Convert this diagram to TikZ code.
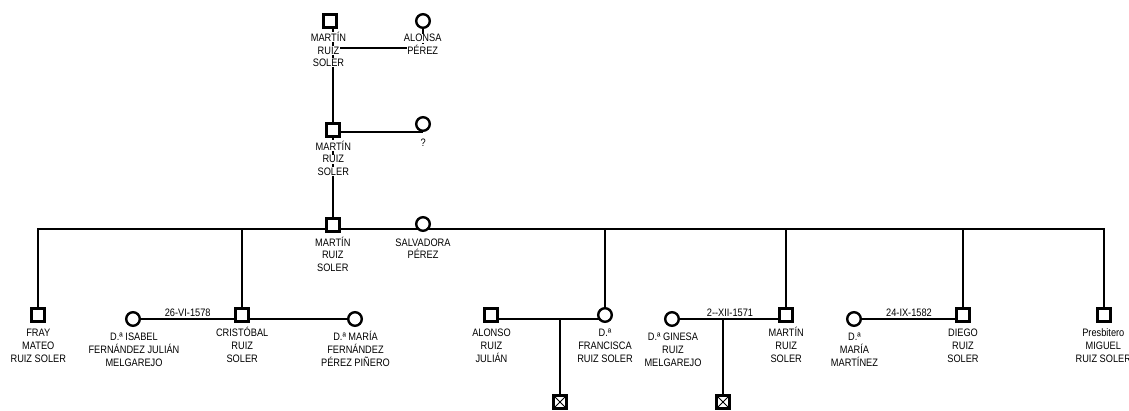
\documentclass[tikz,border=0pt]{standalone}
\usepackage{fontspec}
\setmainfont{Liberation Sans}[FakeStretch=0.855]
\usetikzlibrary{backgrounds}
\newcommand\gtxt[4]{\node[txt] (#1) at (#2,#3) {#4};}
\tikzset{
  txt/.style={anchor=base,inner sep=0.5pt,fill=white,font=\fontsize{10.8}{12}\selectfont},
  datetxt/.style={anchor=base,inner sep=0.5pt,font=\fontsize{10.8}{12}\selectfont},
  male/.style={draw,fill=white,rectangle,minimum size=13pt,inner sep=0pt,line width=2.4pt},
  female/.style={draw,fill=white,circle,minimum size=13.6pt,inner sep=0pt,line width=2.4pt},
  dead/.style={male,path picture={\draw[line width=0.9pt]
      ([shift={(1.2pt,-1.2pt)}]path picture bounding box.north west) -- ([shift={(-1.2pt,1.2pt)}]path picture bounding box.south east)
      ([shift={(-1.2pt,-1.2pt)}]path picture bounding box.north east) -- ([shift={(1.2pt,1.2pt)}]path picture bounding box.south west);}},
  link/.style={line width=2.7pt}
}
\begin{document}
\begin{tikzpicture}[x=1pt,y=-1pt]
\useasboundingbox (0,0) rectangle (1129,411);
% ---- individuals
\node[male]   (s1) at (330,21) {};
\node[female] (c1) at (423,21) {};
\node[male]   (s2) at (333,130) {};
\node[female] (c2) at (423,124) {};
\node[male]   (s3) at (333,225) {};
\node[female] (c3) at (423,224) {};
\node[male]   (fray) at (38,315) {};
\node[female] (isabel) at (133,319) {};
\node[male]   (cris) at (242,315) {};
\node[female] (mariaf) at (355,319) {};
\node[male]   (alonso) at (491,315) {};
\node[female] (fran) at (605,315) {};
\node[female] (ginesa) at (672,319) {};
\node[male]   (martin) at (786,315) {};
\node[female] (mmart) at (854,319) {};
\node[male]   (diego) at (963,315) {};
\node[male]   (miguel) at (1104,315) {};
\node[dead]   (k1) at (560,402) {};
\node[dead]   (k2) at (723,402) {};
\coordinate (m1) at (0,48);
\coordinate (sib) at (0,229);
\coordinate (m4) at (0,319);
% ---- connectors (behind shapes)
\begin{scope}[on background layer]
\draw[link] (s2.north |- s1.south) -- (s2.north);
\draw[link] (s2.north |- m1) -- (c1.south |- m1) -- (c1.south);
\draw[link] (s2.east |- c2.south) -- (c2.south);
\draw[link] (s3.north |- s2.south) -- (s3.north);
\draw[link] (fray.north) -- (fray.north |- sib) -- (miguel.north |- sib) -- (miguel.north);
\draw[link] (cris.north |- sib) -- (cris.north);
\draw[link] (fran.north |- sib) -- (fran.north);
\draw[link] (martin.north |- sib) -- (martin.north);
\draw[link] (diego.north |- sib) -- (diego.north);
\draw[link] (isabel) -- (mariaf);
\draw[link] (alonso.center |- m4) -- (fran.center |- m4);
\draw[link] (k1.north |- m4) -- (k1.north);
\draw[link] (ginesa) -- (martin.center |- ginesa);
\draw[link] (k2.north |- ginesa) -- (k2.north);
\draw[link] (mmart) -- (diego.center |- mmart);
\end{scope}
% ---- texts
\gtxt{a1}{328.5}{41.9}{MARTÍN}
\gtxt{a2}{328.5}{54.3}{RUIZ}
\gtxt{a3}{328.5}{66.3}{SOLER}
\gtxt{b1}{422.7}{41.9}{ALONSA}
\gtxt{b2}{422.7}{54.3}{PÉREZ}
\gtxt{d1}{333.3}{150.3}{MARTÍN}
\gtxt{d2}{333.3}{162.9}{RUIZ}
\gtxt{d3}{333.3}{175.3}{SOLER}
\gtxt{e1}{423.3}{146.3}{?}
\gtxt{f1}{332.8}{246.3}{MARTÍN}
\gtxt{f2}{332.8}{258.6}{RUIZ}
\gtxt{f3}{332.8}{271.3}{SOLER}
\gtxt{g1}{423}{246.3}{SALVADORA}
\gtxt{g2}{423}{258.6}{PÉREZ}
\gtxt{h1}{38.3}{336.3}{FRAY}
\gtxt{h2}{38.3}{349.3}{MATEO}
\gtxt{h3}{38.3}{362.3}{RUIZ SOLER}
\gtxt{i1}{134}{340.9}{D.ª ISABEL}
\gtxt{i2}{134}{353.6}{FERNÁNDEZ JULIÁN}
\gtxt{i3}{134}{366.3}{MELGAREJO}
\gtxt{j1}{242.2}{336.3}{CRISTÓBAL}
\gtxt{j2}{242.2}{349.3}{RUIZ}
\gtxt{j3}{242.2}{362.3}{SOLER}
\gtxt{l1}{355.5}{340.9}{D.ª MARÍA}
\gtxt{l2}{355.5}{353.6}{FERNÁNDEZ}
\gtxt{l3}{355.5}{366.3}{PÉREZ PIÑERO}
\gtxt{n1}{491.5}{336.3}{ALONSO}
\gtxt{n2}{491.5}{349.3}{RUIZ}
\gtxt{n3}{491.5}{362.3}{JULIÁN}
\gtxt{o1}{605}{336.3}{D.ª}
\gtxt{o2}{605}{349.3}{FRANCISCA}
\gtxt{o3}{605}{362.3}{RUIZ SOLER}
\gtxt{p1}{673}{340.9}{D.ª GINESA}
\gtxt{p2}{673}{353.6}{RUIZ}
\gtxt{p3}{673}{366.3}{MELGAREJO}
\gtxt{q1}{786.2}{336.3}{MARTÍN}
\gtxt{q2}{786.2}{349.3}{RUIZ}
\gtxt{q3}{786.2}{362.3}{SOLER}
\gtxt{r1}{854.5}{340.9}{D.ª}
\gtxt{r2}{854.5}{353.6}{MARÍA}
\gtxt{r3}{854.5}{366.3}{MARTÍNEZ}
\gtxt{t1}{963}{336.3}{DIEGO}
\gtxt{t2}{963}{349.3}{RUIZ}
\gtxt{t3}{963}{362.3}{SOLER}
\gtxt{u1}{1103.3}{336.3}{Presbitero}
\gtxt{u2}{1103.3}{349.3}{MIGUEL}
\gtxt{u3}{1103.3}{362.3}{RUIZ SOLER}
\node[datetxt] (dt1) at (187.7,316.3) {26-VI-1578};
\node[datetxt] (dt2) at (730,316.3) {2-{}-XII-1571};
\node[datetxt] (dt3) at (909,316.3) {24-IX-1582};
\end{tikzpicture}
\end{document}
